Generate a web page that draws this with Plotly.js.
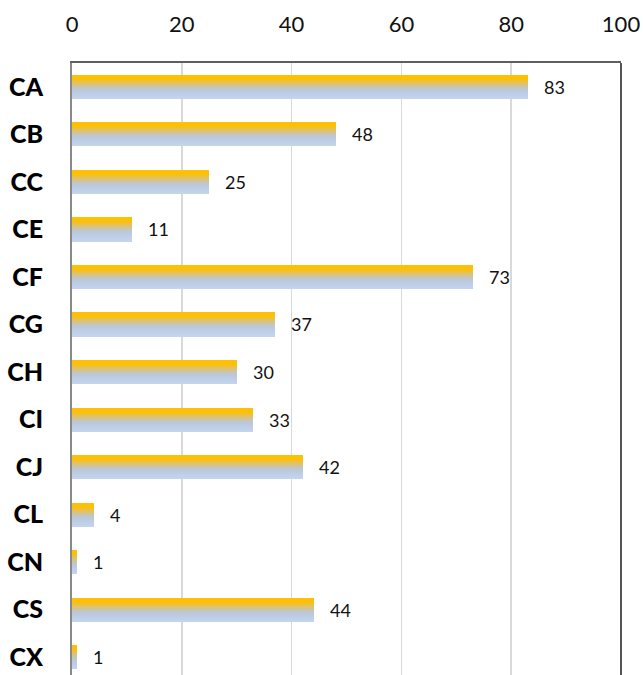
<!DOCTYPE html>
<html>
<head>
<meta charset="utf-8">
<script src="https://cdn.plot.ly/plotly-3.0.1.min.js"></script>
<style>
html, body { margin: 0; padding: 0; overflow: hidden; background: #fff; }
#chart { width: 643px; height: 681px; }
</style>
</head>
<body>
<div id="chart"></div>
<script>
// ---- data ----
const categories = ["CA", "CB", "CC", "CE", "CF", "CG", "CH", "CI", "CJ", "CL", "CN", "CS", "CX"];
const values = [83, 48, 25, 11, 73, 37, 30, 33, 42, 4, 1, 44, 1];
const xTickVals = [0, 20, 40, 60, 80, 100];

// ---- gradient stripes (style only) ----
const barWidth = 0.505;
const nStripes = 24;
const stops = [
  [0.00, [255, 192, 0]],
  [0.18, [252, 192, 10]],
  [0.42, [214, 195, 140]],
  [0.62, [185, 200, 222]],
  [1.00, [196, 213, 238]]
];
function colorAt(t) {
  for (let s = 0; s < stops.length - 1; s++) {
    const [t0, c0] = stops[s], [t1, c1] = stops[s + 1];
    if (t <= t1) {
      const u = (t - t0) / (t1 - t0);
      return 'rgb(' + c0.map((v, k) => Math.round(v + (c1[k] - v) * u)).join(',') + ')';
    }
  }
  return 'rgb(' + stops[stops.length - 1][1].join(',') + ')';
}

const traces = [];
const sw = barWidth / nStripes;
for (let i = 0; i < nStripes; i++) {
  traces.push({
    type: 'bar',
    orientation: 'h',
    x: values,
    y: categories,
    width: sw * 1.15,
    offset: -barWidth / 2 + i * sw,
    marker: { color: colorAt((i + 0.5) / nStripes), line: { width: 0 } },
    hoverinfo: 'skip',
    showlegend: false
  });
}

const annotations = values.map((v, i) => ({
  x: v, y: categories[i], xref: 'x', yref: 'y',
  text: String(v), showarrow: false, xanchor: 'left', xshift: 14,
  font: { family: 'Lato, sans-serif', size: 18, color: '#111' }
}));

const layout = {
  width: 643,
  height: 681,
  margin: { l: 72, r: 22, t: 63, b: 0 },
  paper_bgcolor: '#ffffff',
  plot_bgcolor: '#ffffff',
  barmode: 'overlay',
  bargap: 0,
  xaxis: {
    side: 'top',
    range: [0, 100],
    tickvals: xTickVals,
    ticktext: xTickVals.map(String),
    showgrid: true,
    gridcolor: '#d9d9d9',
    gridwidth: 1.5,
    zeroline: false,
    showline: true,
    linecolor: '#5f5f5f',
    linewidth: 2,
    ticks: '',
    ticklabelstandoff: 20,
    tickfont: { family: 'Lato, sans-serif', size: 22, color: '#111' },
    fixedrange: true
  },
  yaxis: {
    type: 'category',
    categoryarray: categories,
    range: [12.5, -0.5],
    showgrid: false,
    zeroline: false,
    showline: true,
    linecolor: '#888888',
    linewidth: 2,
    ticks: '',
    ticklabelstandoff: 22,
    tickfont: { family: 'Lato, sans-serif', size: 25, color: '#000', weight: 900 },
    fixedrange: true
  },
  shapes: [
    { type: 'line', xref: 'paper', yref: 'paper', x0: 1, x1: 1, y0: 0, y1: 1,
      line: { color: '#555555', width: 2 } }
  ],
  annotations: annotations
};

Plotly.newPlot('chart', traces, layout, { displayModeBar: false, staticPlot: true });
</script>
</body>
</html>
